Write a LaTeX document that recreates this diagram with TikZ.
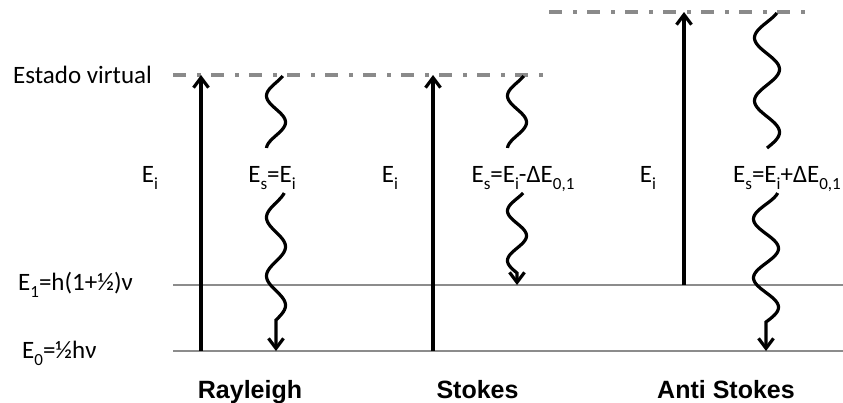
\documentclass[tikz,border=0pt]{standalone}
\usepackage{fontspec}
\setmainfont{Carlito}
\newfontfamily\titlefont{Liberation Sans}
\usetikzlibrary{arrows.meta}
\definecolor{levelgray}{HTML}{8C8C8C}
\definecolor{virtgray}{HTML}{8A8A8A}
\newcommand\lsub[1]{\raisebox{-0.28em}{\fontsize{17}{17}\selectfont #1}}
\tikzset{
  level/.style={draw=levelgray, line width=2.7pt},
  virt/.style={draw=virtgray, line width=3.5pt, dash pattern=on 13pt off 11pt on 3.5pt off 10.5pt},
  photon/.style={line width=3.2pt, -{Straight Barb[length=10pt,width=15pt,line width=3.2pt]}},
  wavy/.style={line width=3.2pt},
  lbl/.style={font=\fontsize{25}{30}\selectfont, inner sep=0pt, anchor=base},
  lbll/.style={lbl, anchor=base west},
  ttl/.style={font=\titlefont\bfseries\fontsize{25}{30}\selectfont, inner sep=0pt, anchor=base}
}
% #1 cx, #2 amplitude, #3 y0, #4 y1, #5 phase0, #6 phase1
\newcommand\wavetop[6]{%
  \draw[wavy] plot[variable=\t, domain=#3:#4, samples=90, smooth]
    ({#1 - #2*sin(#5 + ((\t-#3)/(#4-#3))*(#6-#5))}, \t);}
% same, then straight arrow down to #7 (phase1 must be a multiple of 360)
\newcommand\wavebot[7]{%
  \draw[photon] plot[variable=\t, domain=#3:#4, samples=90, smooth]
    ({#1 - #2*sin(#5 + ((\t-#3)/(#4-#3))*(#6-#5))}, \t) -- (#1,#7);}
\begin{document}
\begin{tikzpicture}[x=1pt,y=-1pt]
\useasboundingbox (0,0) rectangle (843,402);
% levels
\coordinate (e0a) at (173,351); \coordinate (e0b) at (843,351);
\coordinate (e1a) at (173,285); \coordinate (e1b) at (843,285);
\coordinate (v1a) at (173,75);  \coordinate (v1b) at (549,75);
\coordinate (v2a) at (549,12);  \coordinate (v2b) at (810,12);
\draw[level] (e0a) -- (e0b);
\draw[level] (e1a) -- (e1b);
\draw[virt] (v1a) -- (v1b);
\draw[virt] (v2a) -- (v2b);
% left labels
\node[lbll] (lv) at (13,83) {Estado virtual};
\node[lbll] (l1) at (18,290) {E\lsub{1}=h(1+½)ν};
\node[lbll] (l0) at (22,358) {E\lsub{0}=½hν};
% Rayleigh
\coordinate (ra) at (201,351); \coordinate (rb) at (201,75);
\draw[photon] (ra) -- (rb);
\wavetop{276}{9.5}{76}{148}{-45}{445}
\wavebot{276}{9.5}{193}{320}{-60}{720}{351}
\node[lbl] (rei) at (150,182) {E\lsub{i}};
\node[lbl] (res) at (272,182) {E\lsub{s}=E\lsub{i}};
\node[ttl] (rt) at (250,398) {Rayleigh};
% Stokes
\coordinate (sa) at (433,351); \coordinate (sb) at (433,75);
\draw[photon] (sa) -- (sb);
\wavetop{517}{9.5}{76}{148}{-45}{445}
\wavebot{517}{9.5}{193}{273}{-40}{540}{285}
\node[lbl] (sei) at (390,182) {E\lsub{i}};
\node[lbl] (ses) at (523,182) {E\lsub{s}=E\lsub{i}-ΔE\lsub{0,1}};
\node[ttl] (st) at (477.5,398) {Stokes};
% Anti Stokes
\coordinate (aa) at (684,285); \coordinate (ab) at (684,12);
\draw[photon] (aa) -- (ab);
\wavetop{767}{12.5}{13}{148}{-52}{720}
\wavebot{766}{12.5}{193}{322}{-69}{720}{351}
\node[lbl] (aei) at (648,182) {E\lsub{i}};
\node[lbl] (aes) at (787,182) {E\lsub{s}=E\lsub{i}+ΔE\lsub{0,1}};
\node[ttl] (at) at (726,398) {Anti Stokes};
\end{tikzpicture}
\end{document}
